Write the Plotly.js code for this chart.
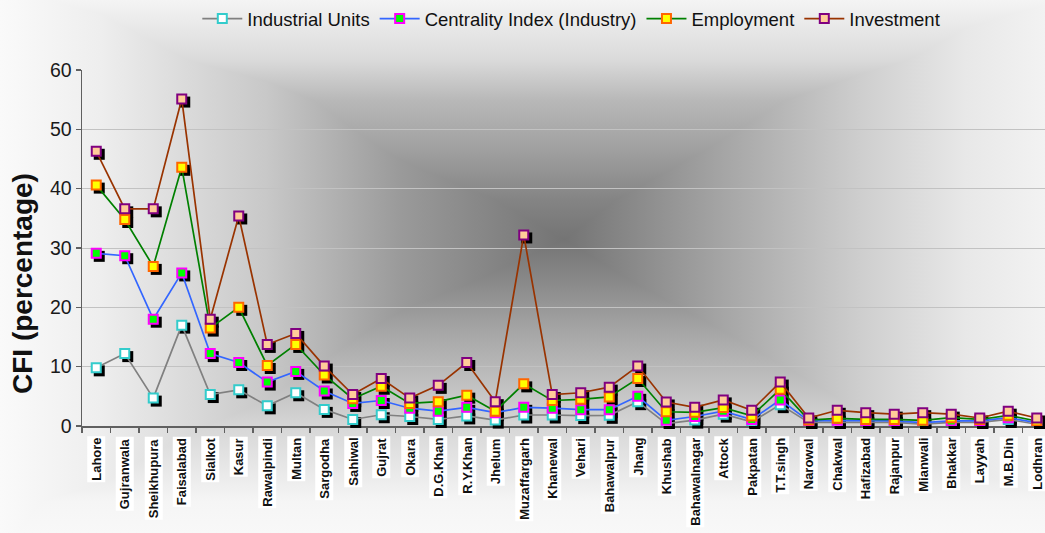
<!DOCTYPE html>
<html>
<head>
<meta charset="utf-8">
<script src="https://cdn.plot.ly/plotly-3.0.1.min.js"></script>
<style>
html, body { margin:0; padding:0; overflow:hidden; }
#bg {
  position:absolute; left:0; top:0; width:1045px; height:533px; overflow:hidden;
  background-color:#000;
  background-image:
    linear-gradient(to right, #fafafa 0%, #eeeeee 9.6%, #c8c8c8 25.5%, #9a9a9a 38.3%, #747474 54%, #a8a8a8 70.1%, #d0d0d0 83%, #e8e8e8 92.5%, #f2f2f2 100%),
    linear-gradient(to bottom, #f4f4f4 0%, #dadada 11.3%, #b8b8b8 18.8%, #a0a0a0 28%, #848484 37.5%, #747474 45%, #888888 52.5%, #a5a5a5 62%, #c8c8c8 75%, #d8d8d8 80.7%, #f5f5f5 94%, #f8f8f8 100%);
  background-blend-mode: lighten;
}
#chart { position:absolute; left:0; top:0; }
</style>
</head>
<body>
<div id="bg"><div id="chart"></div></div>
<script>
var districts = ["Lahore","Gujranwala","Sheikhupura","Faisalabad","Sialkot","Kasur","Rawalpindi","Multan","Sargodha","Sahiwal","Gujrat","Okara","D.G.Khan","R.Y.Khan","Jhelum","Muzaffargarh","Khanewal","Vehari","Bahawalpur","Jhang","Khushab","Bahawalnagar","Attock","Pakpatan","T.T.singh","Narowal","Chakwal","Hafizabad","Rajanpur","Mianwali","Bhakkar","Layyah","M.B.Din","Lodhran"];

var industrialUnits = [9.8,12.2,4.7,17.0,5.3,6.1,3.4,5.6,2.8,1.1,1.9,1.6,1.1,1.7,1.0,1.85,1.85,1.75,1.8,4.1,0.4,1.0,2.0,0.7,3.6,0.6,0.6,0.6,0.6,0.3,0.6,0.6,1.1,0.3];
var centralityIndex = [29.1,28.7,18.0,25.8,12.2,10.7,7.4,9.2,5.9,3.8,4.3,3.0,2.5,3.15,2.25,3.15,3.0,2.75,2.75,5.0,0.96,1.6,2.5,1.1,4.4,0.85,0.96,0.85,0.85,0.57,0.85,0.85,1.4,0.57];
var employment = [40.6,34.8,26.9,43.6,16.5,20.0,10.2,13.75,8.6,4.6,6.7,3.8,4.1,5.2,2.5,7.1,4.3,4.5,4.9,8.0,2.4,2.3,3.1,1.7,6.2,1.0,1.3,1.1,1.1,0.96,1.4,1.1,1.8,0.85];
var investment = [46.3,36.6,36.6,55.1,18.0,35.4,13.75,15.6,10.1,5.3,8.0,4.7,6.85,10.7,4.1,32.2,5.3,5.6,6.55,10.1,4.05,3.15,4.4,2.65,7.4,1.35,2.65,2.25,2.0,2.25,2.0,1.35,2.5,1.35];

var seriesNames = ["Industrial Units","Centrality Index (Industry)","Employment","Investment"];
var seriesData = [industrialUnits, centralityIndex, employment, investment];
var lineColors = ["#808080","#3366ff","#008000","#993300"];
var fillColors = ["#ffffff","#00ff00","#ffff00","#ffcc99"];
var borderColors = ["#33cccc","#ff00ff","#ff6600","#800080"];
var yTitle = "CFI (percentage)";

var FONT = "Arial, 'Liberation Sans', sans-serif";
var traces = [];
// shadows (offset subplot)
seriesData.forEach(function(d){
  traces.push({x: districts, y: d, xaxis:'x2', yaxis:'y2', type:'scatter', mode:'markers',
    marker:{symbol:'square', size:11, color:'#000', line:{width:0}},
    showlegend:false, hoverinfo:'skip'});
});
seriesData.forEach(function(d, i){
  traces.push({x: districts, y: d, name: seriesNames[i], xaxis:'x3', yaxis:'y3', type:'scatter', mode:'lines+markers',
    line:{color: lineColors[i], width:1.7},
    marker:{symbol:'square', size:9, color: fillColors[i], line:{color: borderColors[i], width:2}}});
});

var W = 972, H = 359;
var annotations = districts.map(function(c){
  return {x:c, xref:'x', y:0, yref:'y', yanchor:'top', xanchor:'center', yshift:-10, textangle:-90,
    text:c, showarrow:false, bgcolor:'#ffffff', borderpad:1,
    font:{family:FONT, size:13, color:'#111', weight:'bold'}};
});
annotations.push({text:yTitle, xref:'paper', yref:'paper', x:-60/W, y:(429-284)/H, xanchor:'center', yanchor:'middle',
  textangle:-90, showarrow:false, font:{family:FONT, size:28, color:'#111', weight:'bold'}});

var layout = {
  width:1056, height:533,
  margin:{l:82, r:2, t:70, b:104, pad:0},
  paper_bgcolor:'rgba(0,0,0,0)', plot_bgcolor:'rgba(0,0,0,0)',
  font:{family:FONT, color:'#111'},
  showlegend:true,
  legend:{orientation:'h', xref:'container', yref:'container', x:0.541, xanchor:'center', y:1, yanchor:'top',
    font:{family:FONT, size:18.5, color:'#111'}, bgcolor:'rgba(0,0,0,0)', itemwidth:40, traceorder:'normal'},
  xaxis:{domain:[0, 969/W], anchor:'y', type:'category', categoryarray:districts, categoryorder:'array', range:[-0.5,33.5],
    showticklabels:false, ticks:'outside', tickson:'boundaries', ticklen:5, tickcolor:'#606060', tickwidth:1.5,
    showline:true, linecolor:'#606060', linewidth:1.5, showgrid:false, zeroline:false, fixedrange:true},
  yaxis:{domain:[3/H, 1], anchor:'x', range:[0,60], dtick:10, ticks:'outside', ticklen:5, tickcolor:'#606060', tickwidth:1.5,
    showline:true, linecolor:'#606060', linewidth:1.5, showgrid:true, gridcolor:'#c2c2c2', gridwidth:1, zeroline:false,
    tickfont:{family:FONT, size:19.5, color:'#1a1a1a'}},
  xaxis2:{domain:[3/W, 1], anchor:'y2', type:'category', categoryarray:districts, categoryorder:'array', range:[-0.5,33.5], visible:false},
  yaxis2:{domain:[0, (H-3)/H], anchor:'x2', range:[0,60], visible:false},
  xaxis3:{domain:[0, 969/W], anchor:'y3', type:'category', categoryarray:districts, categoryorder:'array', range:[-0.5,33.5], visible:false},
  yaxis3:{domain:[3/H, 1], anchor:'x3', range:[0,60], visible:false},
  annotations: annotations
};

Plotly.newPlot('chart', traces, layout, {displayModeBar:false, staticPlot:true});
</script>
</body>
</html>
